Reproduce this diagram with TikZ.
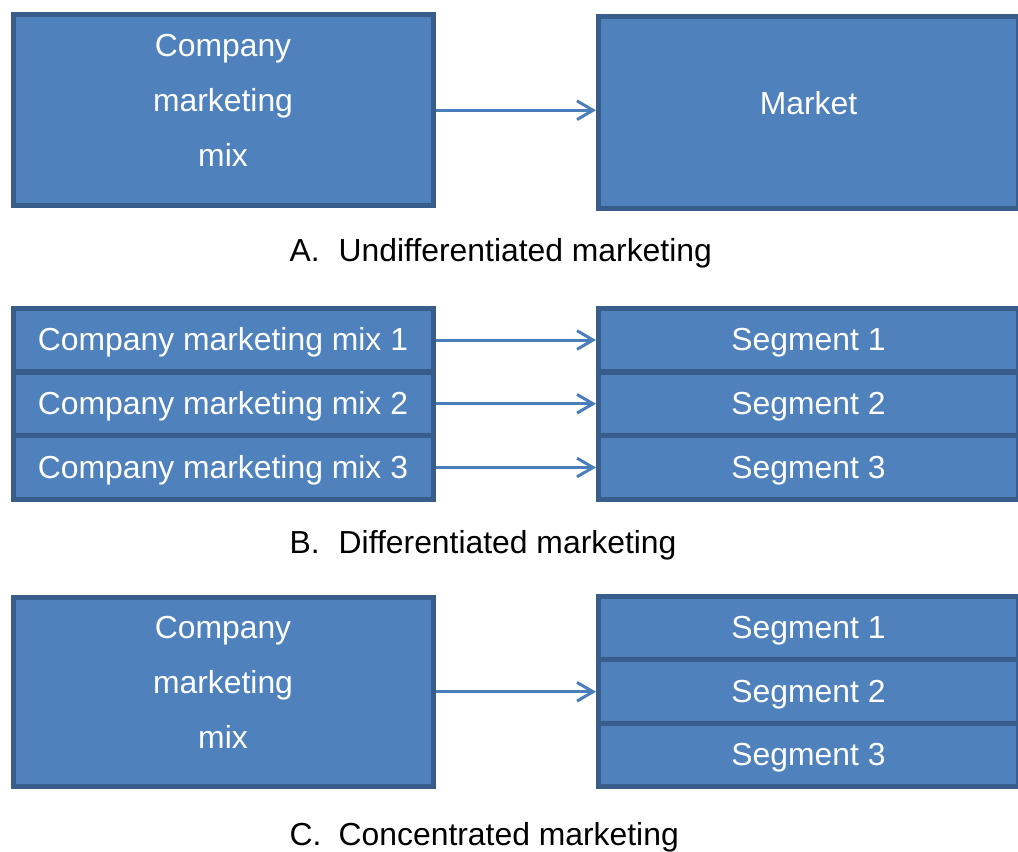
\documentclass[tikz,border=0pt]{standalone}
\usepackage{fontspec}
\setmainfont{Liberation Sans}
\usetikzlibrary{arrows.meta}
\definecolor{boxblue}{HTML}{4F81BD}
\definecolor{edgeblue}{HTML}{385D8A}
\definecolor{arrowblue}{HTML}{4A7EBB}

\begin{document}
\begin{tikzpicture}[x=0.75pt, y=-0.75pt,
  box/.style={draw=edgeblue, fill=boxblue, line width=3.75pt, inner sep=0pt,
    text=white, font=\fontsize{23.9pt}{41.25pt}\selectfont, minimum width=315pt},
  bigbox/.style={box, minimum height=143.6pt, align=center},
  rowbox/.style={box, minimum height=47.6pt, text height=18pt, text depth=2pt},
  link/.style={draw=arrowblue, line width=2.25pt, -{Straight Barb[length=12pt,width=14pt]}},
  caption/.style={anchor=base west, font=\fontsize{23.9pt}{28pt}\selectfont}]
\useasboundingbox (0,0) rectangle (1018,851);

% A. one mix for the whole market
\node[bigbox, text height=100pt, text depth=15pt] (mixA) at (223,110.25) {Company\\marketing\\mix};
\node[bigbox, minimum height=144pt, text height=18pt, text depth=15pt] (market) at (808.5,112) {Market};
\draw[link] (mixA.east) -- (mixA.east -| market.west);
\node[caption] (capA) at (285,261) {\makebox[36.75pt][l]{A.}Undifferentiated marketing};

% B. one mix per segment
\foreach \i/\y in {1/340,2/403.75,3/467.5} {
  \node[rowbox] (mixB\i) at (223,\y) {Company marketing mix \i};
  \node[rowbox] (segB\i) at (808.5,\y) {Segment \i};
  \draw[link] (mixB\i) -- (segB\i);
}
\node[caption] (capB) at (285,553) {\makebox[36.75pt][l]{B.}Differentiated marketing};

% C. one mix for one segment
\node[bigbox, minimum height=142.1pt, text height=100pt, text depth=15pt] (mixC) at (223,691.75) {Company\\marketing\\mix};
\foreach \i/\y in {1/628,2/691.5,3/755} {
  \node[rowbox, minimum height=47.5pt] (segC\i) at (808.5,\y) {Segment \i};
}
\draw[link] (mixC.east) -- (mixC.east -| segC2.west);
\node[caption] (capC) at (285,845) {\makebox[36.75pt][l]{C.}Concentrated marketing};
\end{tikzpicture}
\end{document}
